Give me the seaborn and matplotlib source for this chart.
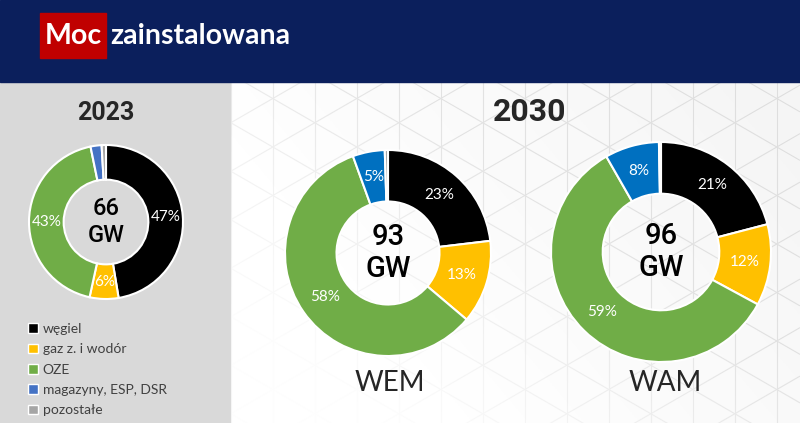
import matplotlib
matplotlib.use("Agg")
import matplotlib.pyplot as plt
from matplotlib.patches import Rectangle, Patch
from matplotlib.collections import LineCollection
import numpy as np
import seaborn as sns

# data
categories = ["węgiel", "gaz z. i wodór", "OZE", "magazyny, ESP, DSR", "pozostałe"]
share_2023 = [47, 6, 43, 2.3, 0.9]
share_wem = [23, 13, 58, 5, 0.5]
share_wam = [21, 12, 59, 8, 0.3]
scenarios = ["2023", "WEM", "WAM"]
totals_gw = [66, 93, 96]

colors_2023 = ["#000000", "#ffc000", "#70ad47", "#4472c4", "#a5a5a5"]
colors_2030 = ["#000000", "#ffc000", "#70ad47", "#0070c0", "#a5a5a5"]

sns.set_theme(style="white")
plt.rcParams["font.family"] = ["Lato", "DejaVu Sans"]

W, H = 800, 423


def Y(y):
    # pixel row from top -> data y
    return H - y


fig = plt.figure(figsize=(8, 4.23), dpi=100)
ax = fig.add_axes([0, 0, 1, 1])

# white base
ax.add_patch(Rectangle((0, 0), W, H, color="white", zorder=0))

# hexagon / triangle lattice behind the right panel
segs = []
for x in np.arange(21, W + 42, 42):
    segs.append([(x, -50), (x, H + 50)])
t = np.tan(np.radians(30))
for c in np.arange(-900, 900, 48.5):
    segs.append([(0, c), (W, c + t * W)])
    segs.append([(0, c + 24), (W, c + 24 - t * W)])
ax.add_collection(LineCollection(segs, colors="#e6e6e6", linewidths=0.8, zorder=1))

# white fade toward bottom-left, soft gray tint toward top-right
xx, yy = np.meshgrid(np.linspace(0, 1, 200), np.linspace(0, 1, 120))
fade = np.clip(1.2 - 1.0 * xx - 0.9 * (1 - yy), 0, 0.95)
rgba = np.ones((120, 200, 4))
rgba[..., 3] = fade
ax.imshow(rgba, extent=(230, W, 0, Y(82)), origin="upper", aspect="auto", zorder=2)
tint = np.zeros((120, 200, 4))
tint[..., :3] = 0.55
tint[..., 3] = np.clip(0.08 * xx + 0.04 * (1 - yy) - 0.03, 0, 0.08)
ax.imshow(tint, extent=(230, W, 0, Y(82)), origin="upper", aspect="auto", zorder=2)

# left panel and header cover the lattice
ax.add_patch(Rectangle((0, 0), 230, Y(82), color="#d9d9d9", zorder=4))
ax.add_patch(Rectangle((0, Y(82)), W, 82, color="#0b1f5c", zorder=4))
ax.add_patch(Rectangle((40, Y(58)), 66, 45, color="#c00000", zorder=5))
ax.text(73, Y(36), "Moc", color="white", fontsize=20.5, fontweight="bold",
        ha="center", va="center", zorder=6)
ax.text(110, Y(36), "zainstalowana", color="white", fontsize=20.5, fontweight="bold",
        ha="left", va="center", zorder=6)

# donuts
layout = [
    (share_2023, colors_2023, (106, 222), 77, 0.45, 17),
    (share_wem, colors_2030, (388, 253), 103, 0.50, 21),
    (share_wam, colors_2030, (661, 252), 110, 0.47, 21),
]
for (vals, cols, (cx, cy), r, w, fs), total in zip(layout, totals_gw):
    wedges, _, autotexts = ax.pie(
        vals, colors=cols, startangle=90, counterclock=False,
        center=(cx, Y(cy)), radius=r, frame=True,
        wedgeprops=dict(width=r * w, edgecolor="white", linewidth=1.5),
        autopct=lambda p: f"{round(p)}%" if p > 4 else "",
        pctdistance=1 - w / 2,
        textprops=dict(color="white", fontsize=11),
    )
    for wdg in wedges:
        wdg.set_zorder(6)
    for txt in autotexts:
        txt.set_zorder(7)
    ax.text(cx, Y(cy), f"{total}\nGW", fontsize=fs, fontweight="medium",
            family=["Roboto", "DejaVu Sans"],
            ha="center", va="center", linespacing=1.2, color="black", zorder=7)

ax.text(106, Y(113), scenarios[0], fontsize=18, fontweight="bold",
        family=["Roboto", "DejaVu Sans"], ha="center", va="center", zorder=7)
ax.text(530, Y(112), "2030", fontsize=23, fontweight="bold",
        family=["Roboto", "DejaVu Sans"], ha="center", va="center", zorder=7)
ax.text(390, Y(383), scenarios[1], fontsize=20, ha="center", va="center", zorder=7)
ax.text(665, Y(383), scenarios[2], fontsize=20, ha="center", va="center", zorder=7)

# legend
handles = [Patch(facecolor=c, edgecolor="white", linewidth=1) for c in colors_2023]
leg = ax.legend(handles, categories, loc="upper left", bbox_to_anchor=(28 / W, Y(323) / H),
                frameon=False, fontsize=10, handlelength=0.7, handleheight=0.7,
                handletextpad=0.35, labelspacing=0.6, borderaxespad=0, borderpad=0)
for txt in leg.get_texts():
    txt.set_color("#404040")
leg.set_zorder(8)

ax.set_xlim(0, W)
ax.set_ylim(0, H)
ax.set_aspect("auto")
ax.axis("off")

fig.savefig("out.png", dpi=100)
plt.close(fig)
